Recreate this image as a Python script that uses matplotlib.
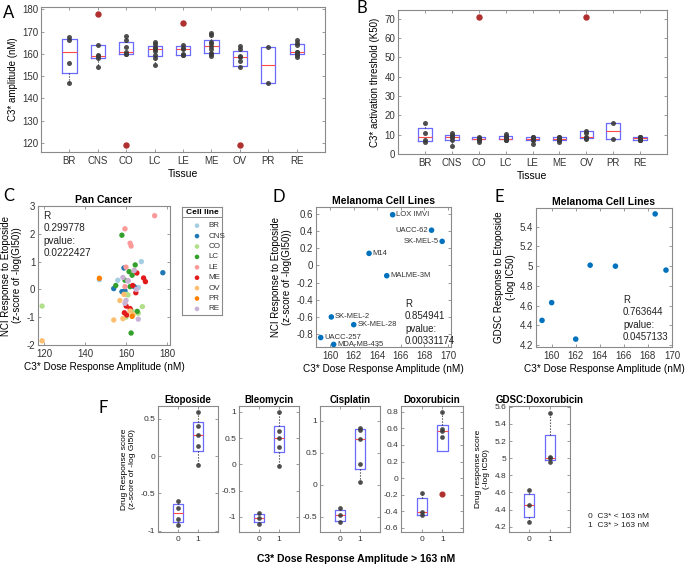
import numpy as np
import matplotlib
matplotlib.use('Agg')
import matplotlib.pyplot as plt
from matplotlib.ticker import MultipleLocator, FuncFormatter

plt.rcParams['font.family'] = ['Liberation Sans', 'DejaVu Sans']
plt.rcParams['axes.unicode_minus'] = False

W, H = 685, 565

# ---- data ----
tissues = ['BR', 'CNS', 'CO', 'LC', 'LE', 'ME', 'OV', 'PR', 'RE']
tissue_colors = ['#a6cee3', '#1f78b4', '#b2df8a', '#33a02c', '#fb9a99',
                 '#e31a1c', '#fdbf6f', '#ff7f00', '#cab2d6']

# melanoma cell lines (NCI etoposide z-score)
mel_names = ['LOX IMVI', 'UACC-62', 'SK-MEL-5', 'M14', 'MALME-3M',
             'SK-MEL-2', 'SK-MEL-28', 'UACC-257', 'MDA-MB-435']
mel_amp = [165.3, 168.6, 169.5, 163.3, 164.8, 160.1, 162.0, 159.2, 160.3]
mel_eto = [0.59, 0.41, 0.28, 0.14, -0.12, -0.60, -0.69, -0.84, -0.92]
mel_side = ['right', 'left', 'left', 'right', 'right', 'right', 'right', 'right', 'right']

# GDSC melanoma
gdsc_amp = [159.2, 160.0, 162.0, 163.2, 165.3, 168.6, 169.5]
gdsc_ic50 = [4.45, 4.63, 4.26, 5.01, 5.00, 5.53, 4.96]

# C3* amplitude per tissue (nM)
amp_br = [167.5, 166, 156, 147]
amp_cns = [178, 164, 159.5, 159, 158, 154]
amp_co = [168, 166, 163, 161, 160, 160, 119]
amp_lc = [165.5, 164.5, 163, 162.5, 162, 161.5, 159.5, 158, 155]
amp_le = [174, 164, 162.5, 162, 160, 159.5, 159.5]
amp_me = mel_amp
amp_ov = [163.5, 162, 159, 158.5, 157, 154, 119]
amp_pr = [163, 147]
amp_re = [166, 165, 164, 161, 161, 160, 159.5, 158.5]

# NCI etoposide response per tissue (same order as amplitudes)
eto_br = [1.0, 0.07, 0.33, 0.35]
eto_cns = [0.6, 0.1, -0.05, 0.77, -0.08, 0.03]
eto_co = [-0.62, -0.86, -0.78, -0.2, -1.0, -0.18, -0.6]
eto_lc = [-0.79, 0.88, 0.51, -1.57, 0.1, 0.64, 0.33, 1.95, 0.14]
eto_le = [2.65, 0.68, 1.56, 1.66, 0.8, 2.18, 0.1]
eto_me = mel_eto
eto_ov = [-0.9, -0.78, -0.18, -1.05, -0.4, -1.1, -1.85]
eto_pr = [-0.97, 0.4]
eto_re = [-1.07, 0.0, 0.68, 0.3, 0.32, -0.4, -0.5, 0.43]

# C3* activation threshold K50 per tissue
k50_br = [16, 11, 7, 6]
k50_cns = [11, 10, 9, 9, 7, 4]
k50_co = [71, 9, 8.5, 8, 8, 7.5, 6]
k50_lc = [10.5, 9.5, 9, 8.5, 8, 8, 8, 7.5, 7]
k50_le = [9, 9, 8.5, 8, 7.5, 7, 5]
k50_me = [9, 9, 8.5, 8.5, 8, 7.5, 7, 7, 6]
k50_ov = [71, 12, 11, 9, 8.5, 8.5, 8]
k50_pr = [16, 8]
k50_re = [9, 9, 9, 8.5, 8, 7.5, 7, 7]

amps = [amp_br, amp_cns, amp_co, amp_lc, amp_le, amp_me, amp_ov, amp_pr, amp_re]
etos = [eto_br, eto_cns, eto_co, eto_lc, eto_le, eto_me, eto_ov, eto_pr, eto_re]
k50s = [k50_br, k50_cns, k50_co, k50_lc, k50_le, k50_me, k50_ov, k50_pr, k50_re]

threshold = 163
bleo_low = [-0.92, -1.03, -1.13]
bleo_high = [1.0, 0.64, 0.51, 0.32, -0.03]
cis_low = [-0.36, -0.48, -0.59]
cis_high = [0.88, 0.86, 0.71, 0.32, 0.04]
dox_low = [-0.18, -0.41, -0.45]
dox_high = [0.8, 0.59, 0.57, 0.5, -0.19]


def px_axes(fig, l, t, r, b):
    return fig.add_axes([l / W, 1 - b / H, (r - l) / W, (b - t) / H])


def style(ax, fs=7):
    for s in ax.spines.values():
        s.set_color('#8a8a8a')
        s.set_linewidth(0.8)
    ax.tick_params(direction='in', length=2.5, width=0.6, colors='#8a8a8a',
                   labelcolor='#333333', labelsize=fs, top=True, right=True, pad=2)
    ax.tick_params(axis='x', pad=3)
    ax.yaxis.set_major_formatter(FuncFormatter(lambda v, p: f'{round(v, 6):g}'))


def mat_box(ax, groups, positions, width=0.5, ms=3.6):
    # matlab style quartiles (hazen) and 1.5 IQR whiskers
    stats, inl = [], []
    for g in groups:
        g = np.asarray(g, dtype=float)
        q1, med, q3 = np.percentile(g, [25, 50, 75], method='hazen')
        lo, hi = q1 - 1.5 * (q3 - q1), q3 + 1.5 * (q3 - q1)
        keep = (g >= lo) & (g <= hi)
        stats.append({'med': med, 'q1': q1, 'q3': q3,
                      'whislo': min(g[keep].min(), q1),
                      'whishi': max(g[keep].max(), q3),
                      'fliers': g[~keep]})
        inl.append(g[keep])
    ax.bxp(stats, positions=positions, widths=width, showcaps=False,
           boxprops=dict(color='#6a6aff', lw=0.9),
           medianprops=dict(color='#ff4a4a', lw=0.8),
           whiskerprops=dict(color='#222222', ls=':', lw=0.8),
           flierprops=dict(marker='o', ms=ms, mfc='#b03030', mec='#b03030'))
    for p, g in zip(positions, inl):
        ax.plot(np.full(len(g), p), g, 'o', ms=ms, color='#3c3c3c', mec='none',
                alpha=0.9, zorder=4)


fig = plt.figure(figsize=(W / 100, H / 100), dpi=100)

# ---- A ----
axA = px_axes(fig, 41, 7, 325, 152)
mat_box(axA, amps, range(1, 10))
axA.set_xlim(0, 10)
axA.set_ylim(116, 181)
axA.set_xticks(range(1, 10))
axA.set_xticklabels(tissues)
axA.yaxis.set_major_locator(MultipleLocator(10))
style(axA)
axA.set_ylabel('C3* amplitude (nM)', fontsize=7, labelpad=3)
axA.set_xlabel('Tissue', fontsize=7.5, labelpad=2)

# ---- B ----
axB = px_axes(fig, 398, 10, 667, 154)
mat_box(axB, k50s, range(1, 10))
axB.set_xlim(0, 10)
axB.set_ylim(0, 74.5)
axB.set_xticks(range(1, 10))
axB.set_xticklabels(tissues)
axB.yaxis.set_major_locator(MultipleLocator(10))
style(axB)
axB.set_ylabel('C3* activation threshold (K50)', fontsize=7, labelpad=3)
axB.set_xlabel('Tissue', fontsize=7.5, labelpad=2)

# ---- C ----
axC = px_axes(fig, 38, 206, 170, 345)
for x, y, c in zip(amps, etos, tissue_colors):
    axC.scatter(x, y, s=15, color=c, edgecolors='none', zorder=3)
axC.set_xlim(117, 181.5)
axC.set_ylim(-2, 3)
axC.xaxis.set_major_locator(MultipleLocator(20))
axC.yaxis.set_major_locator(MultipleLocator(1))
style(axC)
axC.set_title('Pan Cancer', fontsize=7.5, fontweight='bold', pad=2)
axC.set_xlabel('C3* Dose Response Amplitude (nM)', fontsize=7.2, labelpad=2)
axC.set_ylabel('NCI Response to Etoposide\n(z-score of -log(GI50))', fontsize=7, labelpad=3)
axC.text(0.04, 0.965, 'R\n0.299778\npvalue:\n0.0222427', transform=axC.transAxes,
         fontsize=7.2, va='top', ha='left', linespacing=1.3, color='#222222')

# legend box for C
lax = px_axes(fig, 182, 207, 222, 315)
lax.set_xlim(0, 40)
lax.set_ylim(108, 0)
lax.set_xticks([])
lax.set_yticks([])
for s in lax.spines.values():
    s.set_color('#8a8a8a')
    s.set_linewidth(0.8)
lax.text(20, 5, 'Cell line', fontsize=6, fontweight='bold', ha='center', va='center')
lax.axhline(10, color='#8a8a8a', lw=0.7)
for i, (t, c) in enumerate(zip(tissues, tissue_colors)):
    yy = 18.7 + i * 10.4
    lax.scatter([15], [yy], s=11, color=c, edgecolors='none')
    lax.text(26.5, yy, t, fontsize=5.8, va='center', ha='left', color='#333333')

# ---- D ----
axD = px_axes(fig, 316, 207, 451, 347)
axD.scatter(mel_amp, mel_eto, s=16, color='#0072bd', edgecolors='none', zorder=3)
for n, x, y, side in zip(mel_names, mel_amp, mel_eto, mel_side):
    off = 2.5 if side == 'right' else -2.5
    axD.annotate(n, (x, y), xytext=(off, 0), textcoords='offset points',
                 ha='left' if side == 'right' else 'right', va='center',
                 fontsize=5.5, color='#333333')
axD.set_xlim(158.8, 170.25)
axD.set_ylim(-0.95, 0.68)
axD.xaxis.set_major_locator(MultipleLocator(2))
axD.yaxis.set_major_locator(MultipleLocator(0.2))
style(axD)
axD.set_title('Melanoma Cell Lines', fontsize=7.5, fontweight='bold', pad=2)
axD.set_xlabel('C3* Dose Response Amplitude (nM)', fontsize=7.2, labelpad=2)
axD.set_ylabel('NCI Response to Etoposide\n(z-score of -log(GI50))', fontsize=7, labelpad=3)
axD.text(0.66, 0.345, 'R\n0.854941\npvalue:\n0.00331174', transform=axD.transAxes,
         fontsize=7, va='top', ha='left', linespacing=1.3, color='#222222')

# ---- E ----
axE = px_axes(fig, 536, 208, 672, 347)
axE.scatter(gdsc_amp, gdsc_ic50, s=16, color='#0072bd', edgecolors='none', zorder=3)
axE.set_xlim(158.7, 170)
axE.set_ylim(4.18, 5.59)
axE.xaxis.set_major_locator(MultipleLocator(2))
axE.yaxis.set_major_locator(MultipleLocator(0.2))
style(axE)
axE.set_title('Melanoma Cell Lines', fontsize=7.5, fontweight='bold', pad=2)
axE.set_xlabel('C3* Dose Response Amplitude (nM)', fontsize=7.2, labelpad=2)
axE.set_ylabel('GDSC Response to Etoposide\n(-log IC50)', fontsize=7, labelpad=3)
axE.text(0.64, 0.375, 'R\n0.763644\npvalue:\n0.0457133', transform=axE.transAxes,
         fontsize=7, va='top', ha='left', linespacing=1.3, color='#222222')

# ---- F ----
mel_hi = np.array(mel_amp) > threshold
gd_hi = np.array(gdsc_amp) > threshold
eto_low = list(np.array(mel_eto)[~mel_hi])
eto_high = list(np.array(mel_eto)[mel_hi])
gd_low = list(np.array(gdsc_ic50)[~gd_hi])
gd_high = list(np.array(gdsc_ic50)[gd_hi])

f_panels = [
    ('Etoposide', eto_low, eto_high, (158, 218), (-1.017, 0.674), 0.5),
    ('Bleomycin', bleo_low, bleo_high, (239, 299), (-1.29, 1.11), 0.5),
    ('Cisplatin', cis_low, cis_high, (320, 380), (-0.74, 1.23), 0.5),
    ('Doxorubicin', dox_low, dox_high, (401, 463), (-0.65, 0.87), 0.2),
    ('GDSC:Doxorubicin', gd_low, gd_high, (509, 570), (4.138, 5.61), 0.2),
]
f_axes = []
for title, lo, hi, (l, r), ylim, step in f_panels:
    ax = px_axes(fig, l, 406, r, 532)
    mat_box(ax, [lo, hi], [0, 1], width=0.5, ms=3.4)
    ax.set_xlim(-1, 2)
    ax.set_ylim(*ylim)
    ax.set_xticks([0, 1])
    ax.set_xticklabels(['0', '1'])
    ax.yaxis.set_major_locator(MultipleLocator(step))
    style(ax, fs=6)
    ax.set_title(title, fontsize=7, fontweight='bold', pad=2)
    f_axes.append(ax)

f_axes[0].set_ylabel('Drug Response score\n(z-score of -log GI50)', fontsize=6, labelpad=3)
f_axes[4].set_ylabel('Drug response score\n(-log IC50)', fontsize=6, labelpad=3)

fig.text(356 / W, 1 - 559 / H, 'C3* Dose Response Amplitude > 163 nM', fontsize=7.5,
         fontweight='bold', ha='center', va='center')
fig.text(588 / W, 1 - 521 / H, '0  C3* < 163 nM\n1  C3* > 163 nM', fontsize=6,
         ha='left', va='center', linespacing=1.3, color='#222222')

# panel letters
for lab, x, y in [('A', 3, 13), ('B', 357, 8), ('C', 3, 196), ('D', 272, 197),
                  ('E', 495, 197), ('F', 99, 408)]:
    fig.text(x / W, 1 - y / H, lab, fontsize=12, family='Lato', ha='left', va='center')

fig.savefig('out.png', dpi=100)
